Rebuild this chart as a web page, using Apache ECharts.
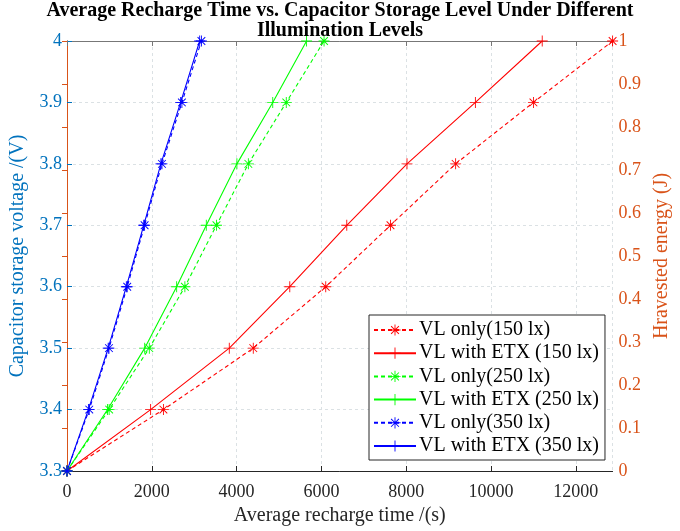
<!DOCTYPE html>
<html><head><meta charset="utf-8">
<script src="https://cdn.jsdelivr.net/npm/echarts@6/dist/echarts.min.js"></script>
<style>html,body{margin:0;padding:0;background:#fff}#c{width:680px;height:531px}</style>
</head><body><div id="c"></div>
<script>
const voltages = [3.3, 3.4, 3.5, 3.6, 3.7, 3.8, 3.9, 4.0];
const vlOnly150 = [0, 2274, 4393, 6102, 7629, 9165, 11000, 12867];
const etx150    = [0, 1972, 3827, 5254, 6598, 8018, 9631, 11207];
const vlOnly250 = [0, 994, 1941, 2780, 3525, 4277, 5171, 6062];
const etx250    = [0, 957, 1832, 2586, 3285, 4007, 4852, 5650];
const vlOnly350 = [0, 525, 990, 1420, 1830, 2240, 2710, 3170];
const etx350    = [0, 505, 971, 1399, 1809, 2214, 2680, 3129];
const seriesNames = ['VL only(150 lx)', 'VL with ETX (150 lx)', 'VL only(250 lx)', 'VL with ETX (250 lx)', 'VL only(350 lx)', 'VL with ETX (350 lx)'];
const xTicks = [0, 2000, 4000, 6000, 8000, 10000, 12000];
const xMax = 12867;

const FONT = '"Liberation Serif", "Times New Roman", serif';
const PLUS = 'path://M-0.08,-1H0.08V1H-0.08ZM-1,-0.08H1V0.08H-1Z';
const STAR = 'path://M-0.08,-1H0.08V1H-0.08ZM-1,-0.08H1V0.08H-1ZM-0.64,-0.76L0.76,0.64L0.64,0.76L-0.76,-0.64ZM0.76,-0.64L-0.64,0.76L-0.76,0.64L0.64,-0.76Z';

const defs = [
  {x: vlOnly150, color: '#ff0000', dashed: true},
  {x: etx150, color: '#ff0000', dashed: false},
  {x: vlOnly250, color: '#00ff00', dashed: true},
  {x: etx250, color: '#00ff00', dashed: false},
  {x: vlOnly350, color: '#0000ff', dashed: true},
  {x: etx350, color: '#0000ff', dashed: false}
];

const series = defs.map((d, i) => ({
  name: seriesNames[i],
  type: 'line',
  xAxisIndex: 0, yAxisIndex: 0,
  data: d.x.map((v, j) => [v, voltages[j]]),
  symbol: d.dashed ? STAR : PLUS,
  symbolSize: 11,
  showAllSymbol: true,
  animation: false,
  lineStyle: {color: d.color, width: 1.1, type: d.dashed ? [4, 3] : 'solid'},
  itemStyle: {color: d.color},
  emphasis: {disabled: true},
  z: 3
}));

const chart = echarts.init(document.getElementById('c'), null, {renderer: 'canvas'});
chart.setOption({
  animation: false,
  backgroundColor: '#fff',
  title: {
    text: 'Average Recharge Time vs. Capacitor Storage Level Under Different\nIllumination Levels',
    left: 'center', top: -4,
    textStyle: {fontFamily: FONT, fontWeight: 'bold', fontSize: 20, color: '#000', lineHeight: 20}
  },
  grid: {left: 67, right: 61, top: 41, bottom: 60, containLabel: false},
  legend: {
    orient: 'vertical',
    left: 369, top: 315,
    itemWidth: 42, itemHeight: 14, itemGap: 3.2,
    padding: [5, 6, 4, 4],
    backgroundColor: '#fff',
    borderColor: '#262626', borderWidth: 1,
    textStyle: {fontFamily: FONT, fontSize: 20, color: '#000', padding: [0, 0, 0, -2]},
    data: seriesNames
  },
  xAxis: [{
    type: 'value', min: 0, max: xMax, interval: 2000, position: 'bottom',
    name: 'Average recharge time /(s)', nameLocation: 'middle', nameGap: 35,
    nameTextStyle: {fontFamily: FONT, fontSize: 20, color: '#262626'},
    axisLine: {show: true, lineStyle: {color: '#262626', width: 1}},
    axisTick: {show: true, inside: true, length: 5, lineStyle: {color: '#262626'}},
    axisLabel: {fontFamily: FONT, fontSize: 18, color: '#262626', margin: 12, showMaxLabel: false,
      formatter: v => xTicks.includes(v) ? String(v) : ''},
    splitLine: {show: true, lineStyle: {color: '#dbe1e4', type: [3, 3], width: 1}}
  }, {
    type: 'value', min: 0, max: xMax, interval: 2000, position: 'top',
    axisLine: {show: true, lineStyle: {color: '#777', width: 1}},
    axisTick: {show: true, inside: true, length: 5, lineStyle: {color: '#777'}},
    axisLabel: {show: false},
    splitLine: {show: false}
  }],
  yAxis: [{
    type: 'value', min: 3.3, max: 4.0, interval: 0.1, position: 'left',
    name: 'Capacitor storage voltage /(V)', nameLocation: 'middle', nameGap: 39,
    nameTextStyle: {fontFamily: FONT, fontSize: 20, color: '#0072BD'},
    axisLine: {show: true, lineStyle: {color: '#0072BD', width: 1}},
    axisTick: {show: true, inside: true, length: 5, lineStyle: {color: '#0072BD'}},
    axisLabel: {fontFamily: FONT, fontSize: 18, color: '#0072BD', margin: 5,
      formatter: v => String(Math.round(v * 10) / 10)},
    splitLine: {show: true, lineStyle: {color: '#dbe1e4', type: [3, 3], width: 1}}
  }, {
    type: 'value', min: 0, max: 1, interval: 0.1, position: 'right',
    name: 'Hravested energy (J)', nameLocation: 'middle', nameGap: 36, nameRotate: 90,
    nameTextStyle: {fontFamily: FONT, fontSize: 20, color: '#D95319'},
    axisLine: {show: true, lineStyle: {color: '#D95319', width: 1}},
    axisTick: {show: true, inside: true, length: 5, lineStyle: {color: '#D95319'}},
    axisLabel: {fontFamily: FONT, fontSize: 18, color: '#D95319', margin: 6,
      formatter: v => String(Math.round(v * 10) / 10)},
    splitLine: {show: false}
  }],
  series: series
});
</script></body></html>
